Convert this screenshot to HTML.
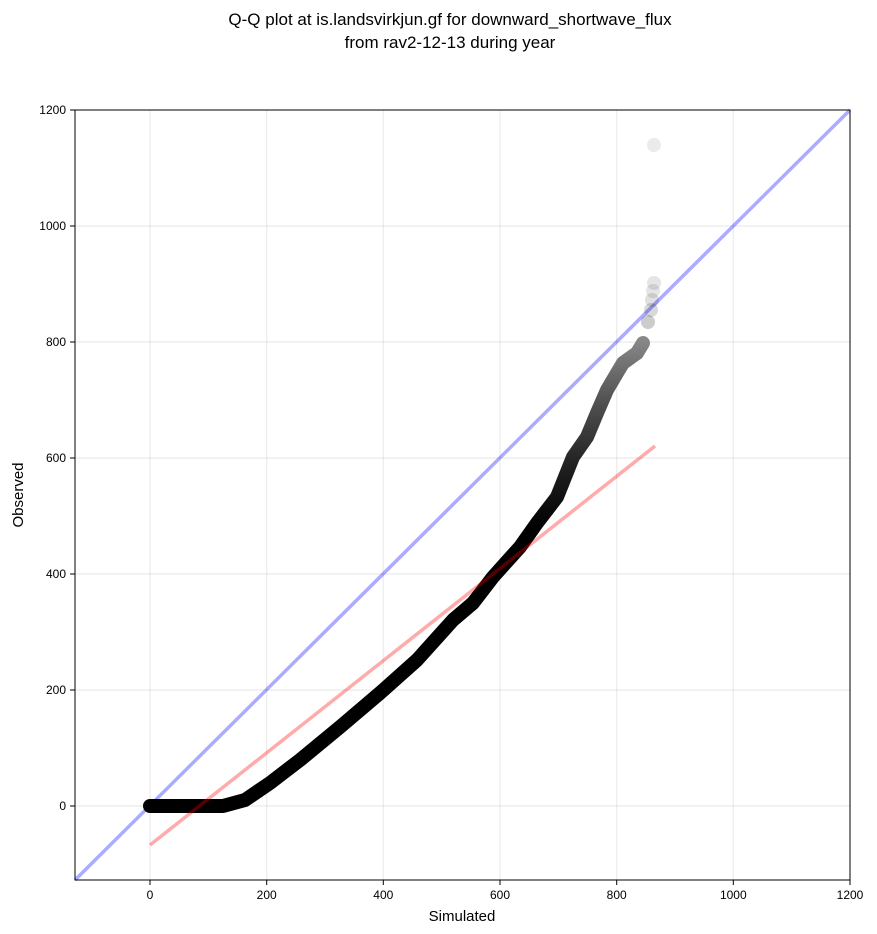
<!DOCTYPE html>
<html><head><meta charset="utf-8"><style>
body{margin:0;background:#fff;}
svg{display:block;font-family:"Liberation Sans","DejaVu Sans",sans-serif;}
</style></head><body>
<svg width="877" height="934" viewBox="0 0 877 934" xmlns="http://www.w3.org/2000/svg">
<defs>
<linearGradient id="g" gradientUnits="userSpaceOnUse" x1="0" y1="530" x2="0" y2="340">
<stop offset="0" stop-color="#000"/><stop offset="0.35" stop-color="#222"/><stop offset="0.7" stop-color="#555"/><stop offset="1" stop-color="#888"/>
</linearGradient>
</defs>
<rect width="877" height="934" fill="#fff"/>
<text x="450" y="25" font-size="17" text-anchor="middle">Q-Q plot at is.landsvirkjun.gf for downward_shortwave_flux</text>
<text x="450" y="48" font-size="17" text-anchor="middle">from rav2-12-13 during year</text>
<g stroke="#000" stroke-opacity="0.08" stroke-width="1.2">
<line x1="150" y1="110" x2="150" y2="880"/><line x1="266.7" y1="110" x2="266.7" y2="880"/>
<line x1="383.3" y1="110" x2="383.3" y2="880"/><line x1="500" y1="110" x2="500" y2="880"/>
<line x1="616.7" y1="110" x2="616.7" y2="880"/><line x1="733.3" y1="110" x2="733.3" y2="880"/>
<line x1="75" y1="806" x2="850" y2="806"/><line x1="75" y1="690" x2="850" y2="690"/>
<line x1="75" y1="574" x2="850" y2="574"/><line x1="75" y1="458" x2="850" y2="458"/>
<line x1="75" y1="342" x2="850" y2="342"/><line x1="75" y1="226" x2="850" y2="226"/>
</g>
<line x1="75" y1="880" x2="850" y2="110" stroke="#0000ff" stroke-opacity="0.33" stroke-width="3.5"/>
<path d="M150,806 L223,806 245,800 270,783 300,760 340,727 380,693 417,660 453,620 473,603 493,577 520,547 537,523 557,497 573,457 587,437 597,413 607,390 617,373 623,363 637,353 643,343" fill="none" stroke="url(#g)" stroke-width="14" stroke-linecap="round" stroke-linejoin="round"/>
<line x1="150" y1="845" x2="655" y2="446" stroke="#ff0000" stroke-opacity="0.33" stroke-width="3.5"/>
<g fill="#000">
<circle cx="648" cy="322" r="7" fill-opacity="0.2"/>
<circle cx="651" cy="310" r="7" fill-opacity="0.15"/><circle cx="652" cy="300" r="7" fill-opacity="0.12"/>
<circle cx="653" cy="291" r="7" fill-opacity="0.1"/><circle cx="654" cy="283" r="7" fill-opacity="0.1"/>
<circle cx="654" cy="145" r="7" fill-opacity="0.08"/>
</g>
<rect x="75" y="110" width="775" height="770" fill="none" stroke="#000" stroke-width="1"/>
<g stroke="#000" stroke-width="1">
<line x1="150" y1="880" x2="150" y2="885"/><line x1="266.7" y1="880" x2="266.7" y2="885"/>
<line x1="383.3" y1="880" x2="383.3" y2="885"/><line x1="500" y1="880" x2="500" y2="885"/>
<line x1="616.7" y1="880" x2="616.7" y2="885"/><line x1="733.3" y1="880" x2="733.3" y2="885"/>
<line x1="850" y1="880" x2="850" y2="885"/>
<line x1="70" y1="806" x2="75" y2="806"/><line x1="70" y1="690" x2="75" y2="690"/>
<line x1="70" y1="574" x2="75" y2="574"/><line x1="70" y1="458" x2="75" y2="458"/>
<line x1="70" y1="342" x2="75" y2="342"/><line x1="70" y1="226" x2="75" y2="226"/>
<line x1="70" y1="110" x2="75" y2="110"/>
</g>
<g font-size="12" text-anchor="middle">
<text x="150" y="899">0</text><text x="266.7" y="899">200</text><text x="383.3" y="899">400</text>
<text x="500" y="899">600</text><text x="616.7" y="899">800</text><text x="733.3" y="899">1000</text><text x="850" y="899">1200</text>
</g>
<g font-size="12" text-anchor="end">
<text x="66" y="810">0</text><text x="66" y="694">200</text><text x="66" y="578">400</text>
<text x="66" y="462">600</text><text x="66" y="346">800</text><text x="66" y="230">1000</text><text x="66" y="114">1200</text>
</g>
<text x="462" y="921" font-size="15" text-anchor="middle">Simulated</text>
<text x="23" y="495" font-size="15" text-anchor="middle" transform="rotate(-90 23 495)">Observed</text>
</svg>
</body></html>
